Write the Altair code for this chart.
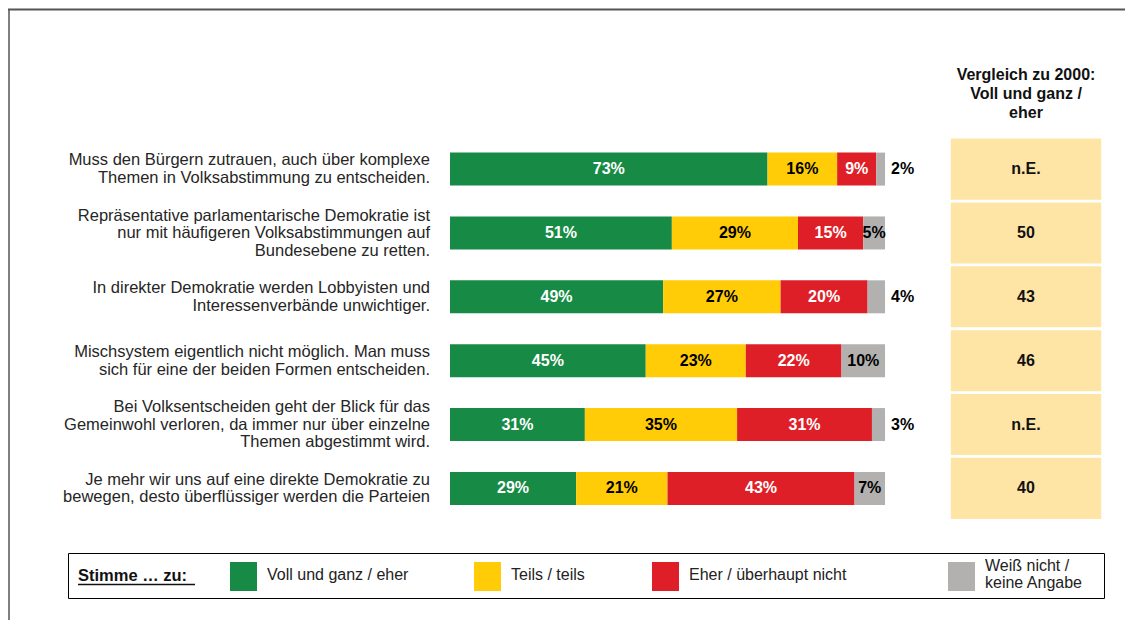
import altair as alt
import pandas as pd

statements = [
    "Muss den Bürgern zutrauen,  auch über komplexe\nThemen  in Volksabstimmung zu entscheiden.",
    "Repräsentative parlamentarische Demokratie ist\nnur mit häufigeren Volksabstimmungen auf\nBundesebene zu retten.",
    "In direkter Demokratie werden Lobbyisten und\nInteressenverbände  unwichtiger.",
    "Mischsystem eigentlich nicht möglich. Man muss\nsich für eine der beiden Formen entscheiden.",
    "Bei Volksentscheiden geht der Blick für das\nGemeinwohl verloren, da immer nur über einzelne\nThemen abgestimmt wird.",
    "Je mehr wir uns auf eine direkte Demokratie zu\nbewegen, desto überflüssiger werden die Parteien",
]
categories = ["Voll und ganz / eher", "Teils / teils", "Eher / überhaupt nicht", "Weiß nicht / keine Angabe"]
legend_labels = ["Voll und ganz / eher", "Teils / teils", "Eher / überhaupt nicht", "Weiß nicht /\nkeine Angabe"]
voll = [73, 51, 49, 45, 31, 29]
teils = [16, 29, 27, 23, 35, 21]
eher_nicht = [9, 15, 20, 22, 31, 43]
weiss_nicht = [2, 5, 4, 10, 3, 7]
vergleich_2000 = ["n.E.", "50", "43", "46", "n.E.", "40"]
header_text = "Vergleich zu 2000:\nVoll und ganz /\neher"
legend_title = "Stimme … zu:"

colors = ["#178B45", "#FFCC07", "#DF1F27", "#B2B1B0"]
FONT = "Liberation Sans"

W, H = 1117, 612
# plot geometry: 0..100 % maps to pixels 442..877, rows 0..5 to 158.7..483.3
XPX0, XPX1 = 442.0, 877.0
YPX0, YPX1 = 158.7, 483.3
xk = (XPX1 - XPX0) / 100.0
yk = (YPX1 - YPX0) / 5.0
x_dom = [-XPX0 / xk, (W - XPX0) / xk]
y_dom = [-YPX0 / yk, (H - YPX0) / yk]
LH = 17.5  # statement line height

rows = []
for i in range(len(statements)):
    start = 0
    for k, (c, vals) in enumerate(zip(categories, [voll, teils, eher_nicht, weiss_nicht])):
        v = vals[i]
        rows.append(dict(row=i, cat=c, value=v, start=start, end=start + v,
                         mid=start + v / 2, label=f"{v}%",
                         light=int(k in (0, 2)),
                         outside=int(c == categories[3] and v < 5)))
        start += v
bars = pd.DataFrame(rows)
info = pd.DataFrame(dict(row=list(range(len(statements))), statement=statements,
                         comp=vergleich_2000))

xs = alt.Scale(domain=x_dom, nice=False, zero=False)
ys = alt.Scale(domain=y_dom, nice=False, zero=False, reverse=True)

bar_layer = alt.Chart(bars).mark_bar(size=33).encode(
    x=alt.X("start:Q", scale=xs, axis=None),
    x2="end:Q",
    y=alt.Y("row:Q", scale=ys, axis=None),
    color=alt.Color("cat:N", scale=alt.Scale(domain=categories, range=colors), legend=None),
)

inside_labels = alt.Chart(bars).transform_filter("datum.outside == 0").mark_text(
    font=FONT, fontSize=16, fontWeight="bold", baseline="middle", align="center"
).encode(
    x=alt.X("mid:Q", scale=xs, axis=None),
    y=alt.Y("row:Q", scale=ys, axis=None),
    text="label:N",
    color=alt.condition("datum.light == 1", alt.value("white"), alt.value("black")),
)

outside_labels = alt.Chart(bars).transform_filter("datum.outside == 1").mark_text(
    font=FONT, fontSize=16, fontWeight="bold", baseline="middle", align="left", dx=6,
    color="black"
).encode(
    x=alt.X("end:Q", scale=xs, axis=None),
    y=alt.Y("row:Q", scale=ys, axis=None),
    text="label:N",
)

statement_layer = alt.Chart(info).transform_calculate(
    ty=f"datum.row - (length(split(datum.statement, '\\n')) - 1) * {LH / 2 / yk}"
).mark_text(
    font=FONT, fontSize=16.5, align="right", baseline="middle", lineHeight=LH,
    lineBreak="\n", color="#262626"
).encode(
    x=alt.value(422),
    y=alt.Y("ty:Q", scale=ys, axis=None),
    text="statement:N",
)

cells = alt.Chart(info).transform_calculate(
    r0="datum.row - 0.49", r1="datum.row + 0.49"
).mark_rect(color="#FEE5A6", stroke="white", strokeWidth=1.5).encode(
    x=alt.value(942), x2=alt.value(1094),
    y=alt.Y("r0:Q", scale=ys, axis=None), y2="r1:Q",
)

cell_text = alt.Chart(info).mark_text(
    font=FONT, fontSize=16, fontWeight="bold", align="center", baseline="middle",
    color="#111"
).encode(
    x=alt.value(1018),
    y=alt.Y("row:Q", scale=ys, axis=None),
    text="comp:N",
)

header = alt.Chart(pd.DataFrame({"t": [header_text]})).mark_text(
    font=FONT, fontSize=16, fontWeight="bold", align="center", baseline="middle",
    lineHeight=19, lineBreak="\n", color="#111"
).encode(
    x=alt.value(1018), y=alt.value(67), text="t:N",
)

one = pd.DataFrame({"a": [0]})

frame_top = alt.Chart(one).mark_rule(color="#555", strokeWidth=1.8).encode(
    x=alt.value(0), x2=alt.value(1125), y=alt.value(1.5)
)
frame_left = alt.Chart(one).mark_rule(color="#555", strokeWidth=1.5).encode(
    x=alt.value(1), y=alt.value(1.5), y2=alt.value(640)
)

legend_box = alt.Chart(one).mark_rect(
    fill="white", fillOpacity=0, stroke="black", strokeWidth=1
).encode(
    x=alt.value(60.5), x2=alt.value(1096.5), y=alt.value(545.5), y2=alt.value(590.5)
)

legend_title_text = alt.Chart(pd.DataFrame({"t": [legend_title]})).mark_text(
    font=FONT, fontSize=16.5, fontWeight="bold", align="left", baseline="alphabetic",
    color="#111"
).encode(x=alt.value(70), y=alt.value(573), text="t:N")

legend_underline = alt.Chart(one).mark_rule(color="#111", strokeWidth=1.3).encode(
    x=alt.value(70), x2=alt.value(187), y=alt.value(576.5)
)

swatch_x = [222, 466, 644, 940]
label_y = [567, 567, 567, 558]
legend_layers = []
for k in range(4):
    lab = pd.DataFrame({"t": [legend_labels[k]]})
    legend_layers.append(
        alt.Chart(lab).mark_rect(color=colors[k]).encode(
            x=alt.value(swatch_x[k]), x2=alt.value(swatch_x[k] + 27),
            y=alt.value(554), y2=alt.value(583),
        )
    )
    legend_layers.append(
        alt.Chart(lab).mark_text(
            font=FONT, fontSize=16, align="left", baseline="middle", lineHeight=17,
            lineBreak="\n", color="#222"
        ).encode(x=alt.value(swatch_x[k] + 37), y=alt.value(label_y[k]), text="t:N")
    )

chart = alt.layer(
    frame_top, frame_left, cells, cell_text, header, statement_layer,
    bar_layer, inside_labels, outside_labels,
    legend_box, legend_title_text, legend_underline, *legend_layers,
).properties(
    width=W, height=H, padding=0, autosize=alt.AutoSizeParams(type="none")
).configure_view(stroke=None)

chart.save("out.html", embed_options={"renderer": "svg", "actions": False})
